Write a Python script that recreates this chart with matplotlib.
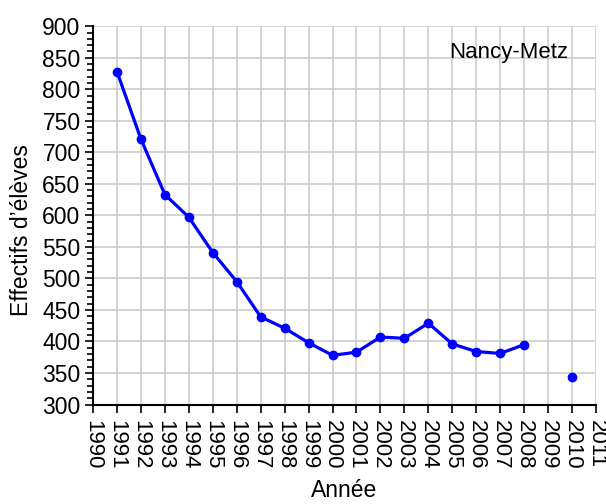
import matplotlib
matplotlib.use("Agg")
import matplotlib.pyplot as plt
import numpy as np
from matplotlib.ticker import MultipleLocator

plt.rcParams['font.family'] = ['Liberation Sans', 'DejaVu Sans']

years = [1991, 1992, 1993, 1994, 1995, 1996, 1997, 1998, 1999, 2000,
         2001, 2002, 2003, 2004, 2005, 2006, 2007, 2008, 2009, 2010]
effectifs = [828, 721, 633, 597, 541, 495, 439, 421, 398, 378,
             383, 407, 405, 429, 396, 384, 381, 395, np.nan, 343]
xticks = list(range(1990, 2012))

fig = plt.figure(figsize=(6.06, 5.04), dpi=100)
ax = fig.add_axes([0.1535, 0.1974, 0.83, 0.7506])

ax.plot(years, effectifs, color='#0000ff', linewidth=2.3, marker='o',
        markersize=6, zorder=3)

ax.set_xlim(1990, 2011)
ax.set_ylim(300, 900)
ax.set_xticks(xticks)
ax.set_xticklabels([str(x) for x in xticks], rotation=-90, fontsize=16)
ax.yaxis.set_major_locator(MultipleLocator(50))
ax.yaxis.set_minor_locator(MultipleLocator(10))
ax.tick_params(axis='y', labelsize=16.5, which='major', length=6, width=1.2,
               direction='out', pad=3)
ax.tick_params(axis='y', which='minor', length=4, width=1.2, direction='out')
ax.tick_params(axis='x', length=6, width=1.2, direction='out', pad=5)
ax.grid(True, which='major', color='#cccccc', linewidth=1.2, zorder=0)
ax.set_axisbelow(True)
for s in ['top', 'right']:
    ax.spines[s].set_visible(False)
for s in ['left', 'bottom']:
    ax.spines[s].set_linewidth(1.5)

ax.set_ylabel("Effectifs d\u2019élèves", fontsize=16.5)
ax.set_xlabel("Année", fontsize=16.5)
ax.yaxis.set_label_coords(-0.12, 0.461)
ax.xaxis.set_label_coords(0.5, -0.198)
ax.text(0.945, 0.93, "Nancy-Metz", transform=ax.transAxes, ha='right',
        va='center', fontsize=16)

fig.savefig("out.png", dpi=100)
